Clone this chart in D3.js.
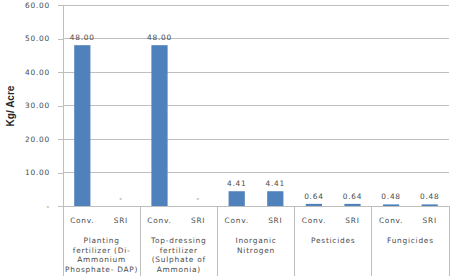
<!DOCTYPE html>
<html><head><meta charset="utf-8">
<script src="https://d3js.org/d3.v7.min.js"></script>
<style>body{margin:0;background:#fff}svg{display:block}</style>
</head><body>
<svg id="c" width="457" height="278"></svg>
<script>
const groups = ["Planting fertilizer (Di-Ammonium Phosphate- DAP)","Top-dressing fertilizer (Sulphate of Ammonia)","Inorganic Nitrogen","Pesticides","Fungicides"];
const groupLines = [["Planting","fertilizer (Di-","Ammonium","Phosphate- DAP)"],["Top-dressing","fertilizer","(Sulphate of","Ammonia)"],["Inorganic","Nitrogen"],["Pesticides"],["Fungicides"]];
const methods = ["Conv.","SRI"];
const conv = [48.00, 48.00, 4.41, 0.64, 0.48];
const sri = [0, 0, 4.41, 0.64, 0.48];
const yTicks = [0,10,20,30,40,50,60];

(function(){
const svg = d3.select("#c");
const mLeft = 63, mRight = 449, mTop = 5, mBottom = 206;
const x0 = d3.scaleBand().domain(groups).range([mLeft,mRight]).padding(0);
const x1 = d3.scaleBand().domain(methods).range([0,x0.bandwidth()]).paddingInner(0.58).paddingOuter(0.29);
const y = d3.scaleLinear().domain([0,60]).range([mBottom,mTop]);
const font = "DejaVu Sans, Verdana, sans-serif";
const txt = "#4a4a4a";
const fs = "7.4px", ls = "0.75px";
const style = s => s.attr("fill",txt).attr("font-family",font).attr("font-size",fs).attr("letter-spacing",ls);

svg.append("g").selectAll("line").data(yTicks.filter(d=>d>0)).join("line")
  .attr("x1",mLeft).attr("x2",mRight).attr("y1",d=>y(d)).attr("y2",d=>y(d))
  .attr("stroke","#bfbfbf").attr("stroke-width",1).attr("shape-rendering","crispEdges");

const ya = svg.append("g").attr("transform",`translate(${mLeft},0)`)
  .call(d3.axisLeft(y).tickValues(yTicks).tickSize(5).tickPadding(8)
    .tickFormat(d=> d===0 ? "-" : d3.format(".2f")(d)));
ya.select(".domain").attr("stroke","#bfbfbf").attr("shape-rendering","crispEdges");
ya.selectAll(".tick line").attr("stroke","#bfbfbf").attr("shape-rendering","crispEdges");
ya.selectAll(".tick text").call(style);

svg.append("line").attr("x1",mLeft).attr("x2",mRight).attr("y1",mBottom).attr("y2",mBottom)
  .attr("stroke","#bfbfbf").attr("shape-rendering","crispEdges");
const seps = groups.map(g=>x0(g)).concat([mRight]);
svg.append("g").selectAll("line").data(seps).join("line")
  .attr("x1",d=>d).attr("x2",d=>d).attr("y1",mBottom).attr("y2",276)
  .attr("stroke","#bfbfbf").attr("shape-rendering","crispEdges");

const data = [];
groups.forEach((g,i)=>{ data.push({g,m:"Conv.",v:conv[i]}); data.push({g,m:"SRI",v:sri[i]}); });
svg.append("g").selectAll("rect").data(data.filter(d=>d.v>0)).join("rect")
  .attr("x",d=>x0(d.g)+x1(d.m)).attr("width",x1.bandwidth())
  .attr("y",d=>y(d.v)).attr("height",d=>y(0)-y(d.v)).attr("fill","#4F81BD");

svg.append("g").selectAll("text").data(data).join("text")
  .attr("x",d=>x0(d.g)+x1(d.m)+x1.bandwidth()/2)
  .attr("y",d=>y(d.v)-5)
  .attr("text-anchor","middle").call(style)
  .text(d=> d.v===0 ? "-" : d3.format(".2f")(d.v));

svg.append("g").selectAll("text").data(data).join("text")
  .attr("x",d=>x0(d.g)+x1(d.m)+x1.bandwidth()/2).attr("y",223)
  .attr("text-anchor","middle").call(style)
  .text(d=>d.m);

groups.forEach((g,i)=>{
  const cx = x0(g)+x0.bandwidth()/2;
  const t = svg.append("text").attr("x",cx).attr("y",243)
    .attr("text-anchor","middle").call(style);
  groupLines[i].forEach((l,j)=> t.append("tspan").attr("x",cx).attr("dy", j===0?0:9.6).text(l));
});

svg.append("text").attr("transform",`translate(14,106) rotate(-90)`)
  .attr("text-anchor","middle").attr("font-family","Liberation Sans Narrow, Liberation Sans, Arial, sans-serif")
  .attr("font-weight","bold").attr("font-size","10px").attr("fill","#262626").text("Kg/ Acre");
})();
</script>
</body></html>
